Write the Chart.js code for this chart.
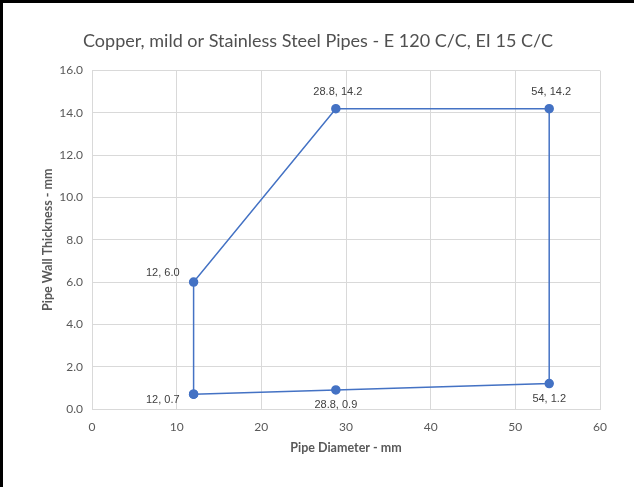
<!DOCTYPE html>
<html>
<head>
<meta charset="utf-8">
<script src="https://cdn.jsdelivr.net/npm/chart.js"></script>
<style>
  html, body { margin: 0; padding: 0; background: #fff; }
  #frame {
    width: 634px; height: 487px; box-sizing: border-box;
    border-top: 3px solid #000; border-left: 3px solid #000;
    position: relative;
  }
  #chart-canvas { display: block; }
</style>
</head>
<body>
<div id="frame"><canvas id="chart-canvas" width="631" height="484"></canvas></div>
<script>
// pipe outline, walked round and closed back on the first point
const pipeDiameter = [12, 28.8, 54, 54, 28.8, 12, 12];
const wallThickness = [0.7, 0.9, 1.2, 14.2, 14.2, 6.0, 0.7];
// where each value label sits next to its point ('' = no label)
const labelSide = ['leftBelow', 'below', 'below', 'above', 'above', 'leftAbove', ''];

const xTicks = [0, 10, 20, 30, 40, 50, 60];
const yTicks = [0, 2, 4, 6, 8, 10, 12, 14, 16];

const points = pipeDiameter.map((d, i) => ({ x: d, y: wallThickness[i] }));

const pointLabels = {
    id: 'pointLabels',
    afterDatasetsDraw(chart) {
        const ctx = chart.ctx;
        const xs = chart.scales.x, ys = chart.scales.y;
        ctx.save();
        ctx.font = '11px "Liberation Sans", Arial, sans-serif';
        ctx.fillStyle = '#404040';
        ctx.textBaseline = 'middle';
        points.forEach((p, i) => {
            const side = labelSide[i];
            if (!side) return;
            const px = xs.getPixelForValue(p.x);
            const py = ys.getPixelForValue(p.y);
            const text = p.x + ', ' + p.y.toFixed(1);
            if (side === 'above') {
                ctx.textAlign = 'center';
                ctx.fillText(text, px + 2, py - 17);
            } else if (side === 'below') {
                ctx.textAlign = 'center';
                ctx.fillText(text, px, py + 15);
            } else if (side === 'leftAbove') {
                ctx.textAlign = 'right';
                ctx.fillText(text, px - 14, py - 9);
            } else if (side === 'leftBelow') {
                ctx.textAlign = 'right';
                ctx.fillText(text, px - 14, py + 6);
            }
        });
        ctx.restore();
    }
};

const grey = '#595959';

new Chart(document.getElementById('chart-canvas'), {
    type: 'scatter',
    data: {
        datasets: [{
            data: points,
            showLine: true,
            borderColor: '#4472C4',
            backgroundColor: '#4472C4',
            borderWidth: 1.5,
            pointRadius: 4,
            pointHoverRadius: 4,
            tension: 0
        }]
    },
    options: {
        responsive: false,
        animation: false,
        layout: { padding: { left: 33, right: 34, top: 0, bottom: 28 } },
        plugins: {
            legend: { display: false },
            tooltip: { enabled: false },
            title: {
                display: true,
                text: 'Copper, mild or Stainless Steel Pipes - E 120 C/C, EI 15 C/C',
                color: '#505050',
                font: { family: 'Lato, "Open Sans", sans-serif', size: 18, weight: 'normal' },
                padding: { top: 27, bottom: 19 }
            }
        },
        scales: {
            x: {
                type: 'linear',
                min: 0, max: 60,
                afterBuildTicks: s => { s.ticks = xTicks.map(v => ({ value: v })); },
                afterFit: s => { s.height = 50; },
                grid: { color: '#d9d9d9', drawTicks: false },
                border: { color: '#d9d9d9' },
                ticks: { color: grey, padding: 11, font: { family: 'Lato, sans-serif', size: 12 } },
                title: {
                    display: true, text: 'Pipe Diameter - mm', color: grey,
                    font: { family: 'Lato, sans-serif', size: 12.5, weight: 'bold' }
                }
            },
            y: {
                type: 'linear',
                min: 0, max: 16,
                afterBuildTicks: s => { s.ticks = yTicks.map(v => ({ value: v })); },
                afterFit: s => { s.width = 56; },
                grid: { color: '#d9d9d9', drawTicks: false },
                border: { color: '#d9d9d9' },
                ticks: {
                    color: grey, padding: 9,
                    font: { family: 'Lato, sans-serif', size: 12 },
                    callback: v => v.toFixed(1)
                },
                title: {
                    display: true, text: 'Pipe Wall Thickness - mm', color: grey,
                    font: { family: 'Lato, sans-serif', size: 12.5, weight: 'bold' }
                }
            }
        }
    },
    plugins: [pointLabels]
});
</script>
</body>
</html>
